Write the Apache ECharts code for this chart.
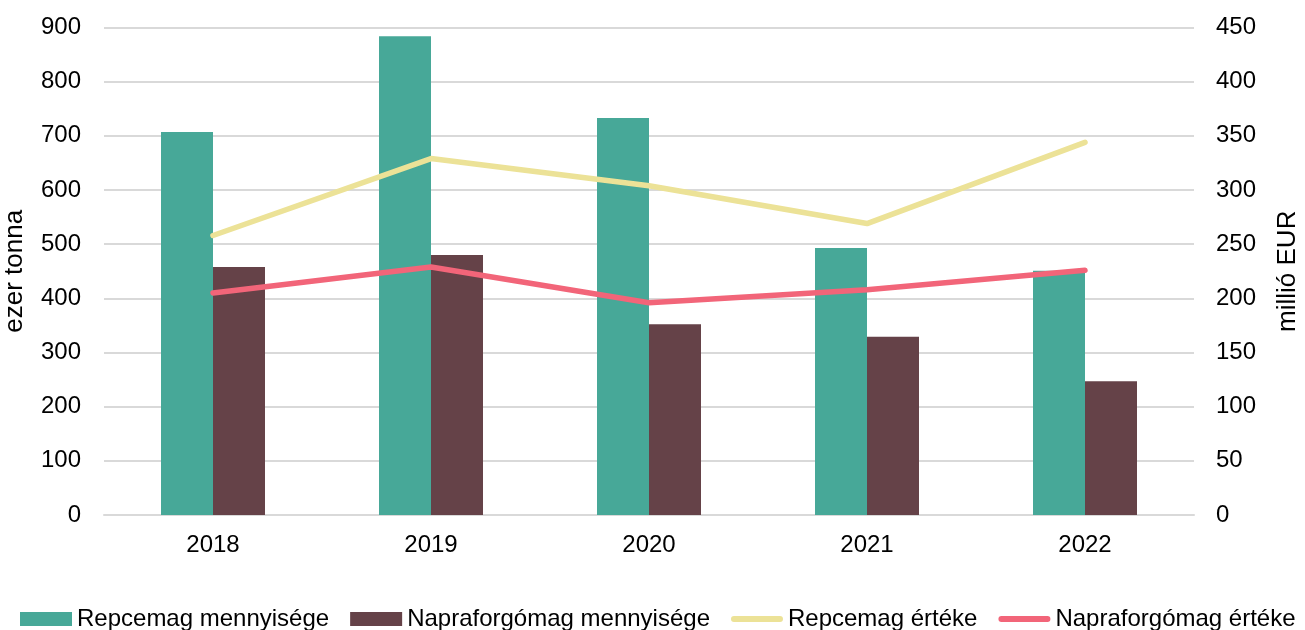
<!DOCTYPE html>
<html>
<head>
<meta charset="utf-8">
<script src="https://cdn.jsdelivr.net/npm/echarts@6/dist/echarts.min.js"></script>
<style>
html,body{margin:0;padding:0;background:#fff;}
#chart{width:1305px;height:630px;}
</style>
</head>
<body>
<div id="chart"></div>
<script>
const categories = ['2018', '2019', '2020', '2021', '2022'];
const repceMennyiseg = [707, 884, 733, 493, 451];
const napraforgoMennyiseg = [458, 480, 352, 329, 247];
const repceErtek = [258, 329, 304, 269, 344];
const napraforgoErtek = [205, 229, 196, 208, 226];
const leftTicks = { min: 0, max: 900, interval: 100 };
const rightTicks = { min: 0, max: 450, interval: 50 };

const font = 'Liberation Sans, Arial, sans-serif';
const lineIcon = 'path://M3,0L49,0A3,3,0,0,1,49,6L3,6A3,3,0,0,1,3,0Z';
const chart = echarts.init(document.getElementById('chart'));
chart.setOption({
  animation: false,
  textStyle: { fontFamily: font, color: '#000' },
  grid: { left: 104, right: 111, top: 27.5, bottom: 115, containLabel: false, outerBoundsMode: 'none' },
  legend: {
    left: 20, top: 607, width: 1400, padding: 0,
    itemWidth: 52, itemHeight: 14, itemGap: 21,
    textStyle: { fontFamily: font, fontSize: 24, color: '#000', padding: [4, 0, 0, 0] },
    data: [
      { name: 'Repcemag mennyisége', icon: 'rect' },
      { name: 'Napraforgómag mennyisége', icon: 'rect' },
      { name: 'Repcemag értéke', icon: lineIcon },
      { name: 'Napraforgómag értéke', icon: lineIcon }
    ]
  },
  xAxis: {
    type: 'category', data: categories,
    axisLine: { lineStyle: { color: '#D9D9D9', width: 2 } },
    axisTick: { show: false },
    axisLabel: { fontSize: 24, color: '#000', margin: 18, fontFamily: font }
  },
  yAxis: [
    {
      type: 'value', min: leftTicks.min, max: leftTicks.max, interval: leftTicks.interval,
      name: 'ezer tonna', nameLocation: 'middle', nameGap: 76, nameRotate: 90,
      nameTextStyle: { fontSize: 26, color: '#000', fontFamily: font },
      axisLine: { show: false }, axisTick: { show: false },
      axisLabel: { fontSize: 24, color: '#000', margin: 23, fontFamily: font },
      splitLine: { lineStyle: { color: '#D9D9D9', width: 2 } }
    },
    {
      type: 'value', min: rightTicks.min, max: rightTicks.max, interval: rightTicks.interval,
      name: 'millió EUR', nameLocation: 'middle', nameGap: 81, nameRotate: 90,
      nameTextStyle: { fontSize: 26, color: '#000', fontFamily: font },
      axisLine: { show: false }, axisTick: { show: false },
      axisLabel: { fontSize: 24, color: '#000', margin: 22, fontFamily: font },
      splitLine: { show: false }
    }
  ],
  series: [
    {
      name: 'Repcemag mennyisége', type: 'bar', data: repceMennyiseg,
      barWidth: 52, barGap: '0%',
      itemStyle: { color: '#47A898' }
    },
    {
      name: 'Napraforgómag mennyisége', type: 'bar', data: napraforgoMennyiseg,
      barWidth: 52,
      itemStyle: { color: '#654248' }
    },
    {
      name: 'Repcemag értéke', type: 'line', yAxisIndex: 1, data: repceErtek,
      symbol: 'none', lineStyle: { color: '#ECE297', width: 5.5, cap: 'round', join: 'round' },
      itemStyle: { color: '#ECE297' }
    },
    {
      name: 'Napraforgómag értéke', type: 'line', yAxisIndex: 1, data: napraforgoErtek,
      symbol: 'none', lineStyle: { color: '#F26579', width: 5.5, cap: 'round', join: 'round' },
      itemStyle: { color: '#F26579' }
    }
  ]
});
</script>
</body>
</html>
